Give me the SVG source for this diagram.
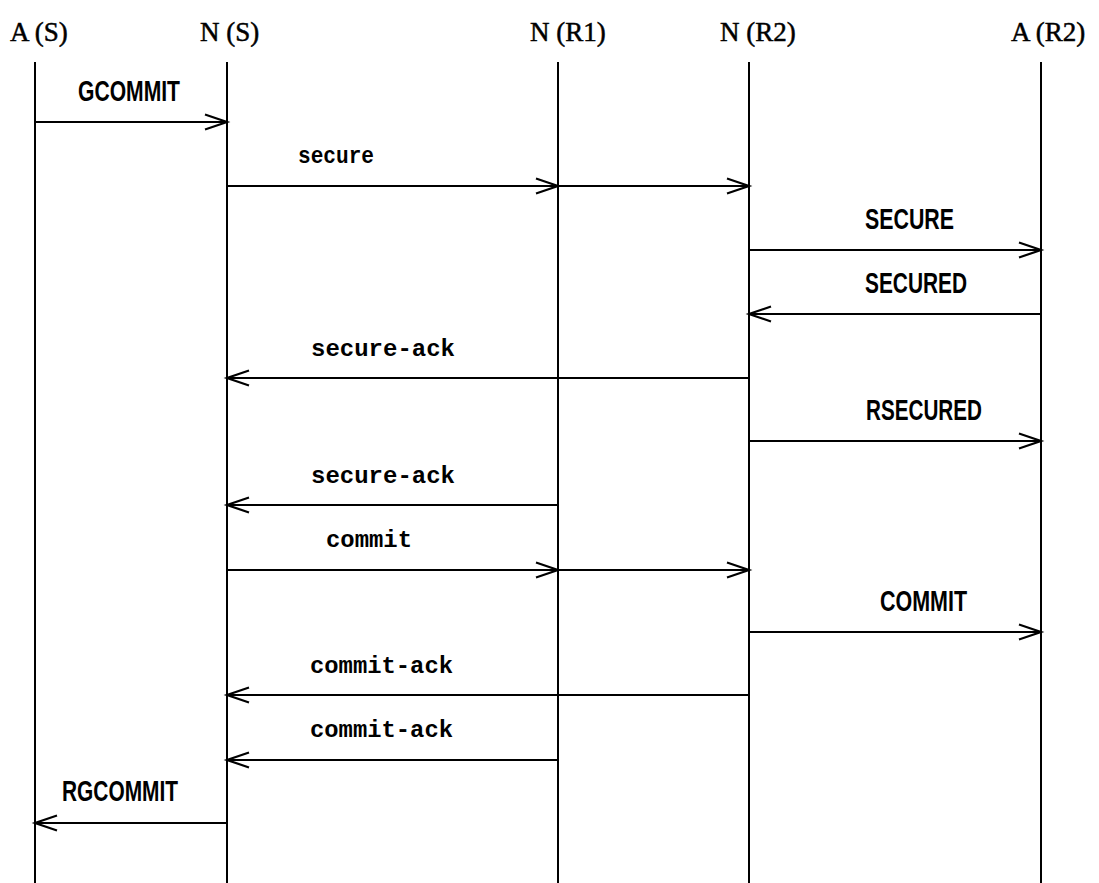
<svg xmlns="http://www.w3.org/2000/svg" width="1099" height="883" viewBox="0 0 1099 883">
<style>
.hdr{font-family:"Liberation Serif","Times New Roman",serif;font-size:27px;fill:#000;stroke:#000;stroke-width:0.5}
.lc{font-family:"Liberation Mono","Courier New",monospace;font-size:24px;font-weight:bold;fill:#000}
.uc{font-family:"Liberation Sans",Arial,sans-serif;font-size:29px;font-weight:bold;fill:#000}
.life{stroke:#000;stroke-width:2;fill:none}
.msg{stroke:#000;stroke-width:2;fill:none;marker-end:url(#ah)}
</style>
<defs>
<marker id="ah" markerUnits="userSpaceOnUse" markerWidth="30" markerHeight="20" refX="23" refY="9" orient="auto" overflow="visible">
<path d="M1,1.5 L23,9 L1,16.5" fill="none" stroke="#000" stroke-width="2.2"/>
</marker>
</defs>
<rect width="1099" height="883" fill="#fff"/>
<g id="node-AS">
<text class="hdr" x="10" y="41">A (S)</text>
<line class="life" x1="35" y1="62" x2="35" y2="883"/>
</g>
<g id="node-NS">
<text class="hdr" x="200" y="41">N (S)</text>
<line class="life" x1="227" y1="62" x2="227" y2="883"/>
</g>
<g id="node-NR1">
<text class="hdr" x="530" y="41">N (R1)</text>
<line class="life" x1="558" y1="62" x2="558" y2="883"/>
</g>
<g id="node-NR2">
<text class="hdr" x="720" y="41">N (R2)</text>
<line class="life" x1="749" y1="62" x2="749" y2="883"/>
</g>
<g id="node-AR2">
<text class="hdr" x="1011" y="41">A (R2)</text>
<line class="life" x1="1041" y1="62" x2="1041" y2="883"/>
</g>
<g id="connectors">
<line class="msg" x1="35" y1="122" x2="227" y2="122"/>
<line class="msg" x1="227" y1="186" x2="558" y2="186"/>
<line class="msg" x1="558" y1="186" x2="749" y2="186"/>
<line class="msg" x1="749" y1="250" x2="1041" y2="250"/>
<line class="msg" x1="1041" y1="314" x2="749" y2="314"/>
<line class="msg" x1="749" y1="378" x2="227" y2="378"/>
<line class="msg" x1="749" y1="441" x2="1041" y2="441"/>
<line class="msg" x1="558" y1="505" x2="227" y2="505"/>
<line class="msg" x1="227" y1="570" x2="558" y2="570"/>
<line class="msg" x1="558" y1="570" x2="749" y2="570"/>
<line class="msg" x1="749" y1="632" x2="1041" y2="632"/>
<line class="msg" x1="749" y1="695" x2="227" y2="695"/>
<line class="msg" x1="558" y1="760" x2="227" y2="760"/>
<line class="msg" x1="227" y1="823" x2="35" y2="823"/>
</g>
<g id="labels">
<text class="uc" x="78" y="101" textLength="102" lengthAdjust="spacingAndGlyphs">GCOMMIT</text>
<text class="lc" x="298" y="163" textLength="76" lengthAdjust="spacingAndGlyphs">secure</text>
<text class="uc" x="865" y="229" textLength="89" lengthAdjust="spacingAndGlyphs">SECURE</text>
<text class="uc" x="865" y="293" textLength="102" lengthAdjust="spacingAndGlyphs">SECURED</text>
<text class="lc" x="311" y="356" textLength="144" lengthAdjust="spacingAndGlyphs">secure-ack</text>
<text class="uc" x="866" y="420" textLength="116" lengthAdjust="spacingAndGlyphs">RSECURED</text>
<text class="lc" x="311" y="483" textLength="144" lengthAdjust="spacingAndGlyphs">secure-ack</text>
<text class="lc" x="326" y="547" textLength="86" lengthAdjust="spacingAndGlyphs">commit</text>
<text class="uc" x="880" y="611" textLength="87" lengthAdjust="spacingAndGlyphs">COMMIT</text>
<text class="lc" x="310" y="673" textLength="143" lengthAdjust="spacingAndGlyphs">commit-ack</text>
<text class="lc" x="310" y="737" textLength="143" lengthAdjust="spacingAndGlyphs">commit-ack</text>
<text class="uc" x="62" y="801" textLength="116" lengthAdjust="spacingAndGlyphs">RGCOMMIT</text>
</g>
</svg>
